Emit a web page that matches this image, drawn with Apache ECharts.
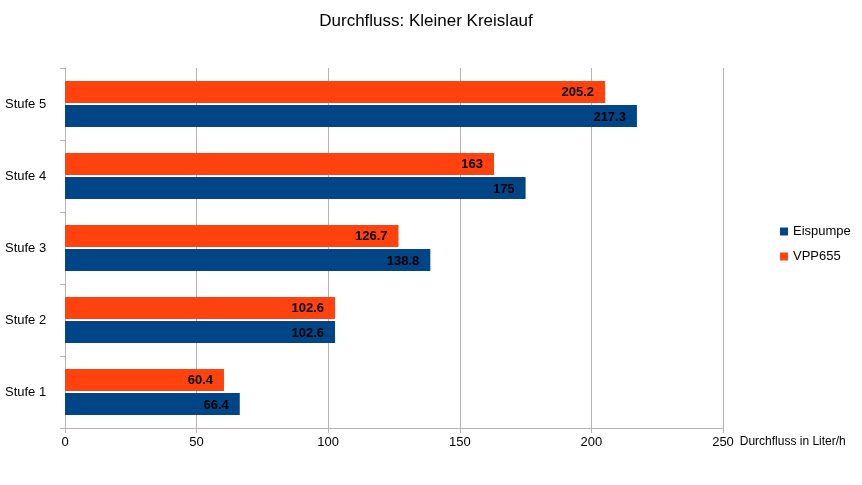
<!DOCTYPE html><html><head><meta charset="utf-8"><script src="https://cdn.jsdelivr.net/npm/echarts@6/dist/echarts.min.js"></script></head><body style="margin:0"><div id="c" style="width:862px;height:485px"></div><script>
const categories=['Stufe 1','Stufe 2','Stufe 3','Stufe 4','Stufe 5'];
const eispumpe=[66.4,102.6,138.8,175,217.3];
const vpp655=[60.4,102.6,126.7,163,205.2];
const xTicks=[0,50,100,150,200,250];
const lbl={show:true,position:'insideRight',color:'#000',fontWeight:'bold',fontSize:13,fontFamily:'Liberation Sans',offset:[-6,1]};
echarts.init(document.getElementById('c')).setOption({
animation:false,
title:{text:'Durchfluss: Kleiner Kreislauf',left:421,top:8,textAlign:'center',textStyle:{fontWeight:'normal',fontSize:17,color:'#000',fontFamily:'Liberation Sans'}},
legend:{data:['Eispumpe','VPP655'],orient:'vertical',left:775,top:220,itemWidth:8,itemHeight:8,itemGap:12,icon:'rect',textStyle:{fontSize:13,color:'#000',fontFamily:'Liberation Sans'}},
grid:{left:65,right:139,top:68,bottom:57},
xAxis:{type:'value',min:xTicks[0],max:xTicks[xTicks.length-1],interval:50,name:'Durchfluss in Liter/h',nameLocation:'end',nameGap:-8,nameTextStyle:{fontSize:12,color:'#000',align:'left',verticalAlign:'top',padding:[8,0,0,22]},
axisLine:{show:true,lineStyle:{color:'#b3b3b3'}},axisTick:{show:true,lineStyle:{color:'#b3b3b3'}},axisLabel:{color:'#000',fontSize:13,fontFamily:'Liberation Sans'},splitLine:{lineStyle:{color:'#b3b3b3'}}},
yAxis:{type:'category',data:categories,axisLine:{lineStyle:{color:'#b3b3b3'}},axisTick:{show:true,lineStyle:{color:'#b3b3b3'}},axisLabel:{color:'#000',fontSize:13,fontFamily:'Liberation Sans',align:'left',margin:60},splitLine:{show:false}},
series:[
{name:'VPP655',type:'bar',data:vpp655,barWidth:22,barGap:'10%',itemStyle:{color:'#ff420e'},label:lbl},
{name:'Eispumpe',type:'bar',data:eispumpe,barWidth:22,itemStyle:{color:'#004586'},label:lbl}
]});
</script></body></html>
